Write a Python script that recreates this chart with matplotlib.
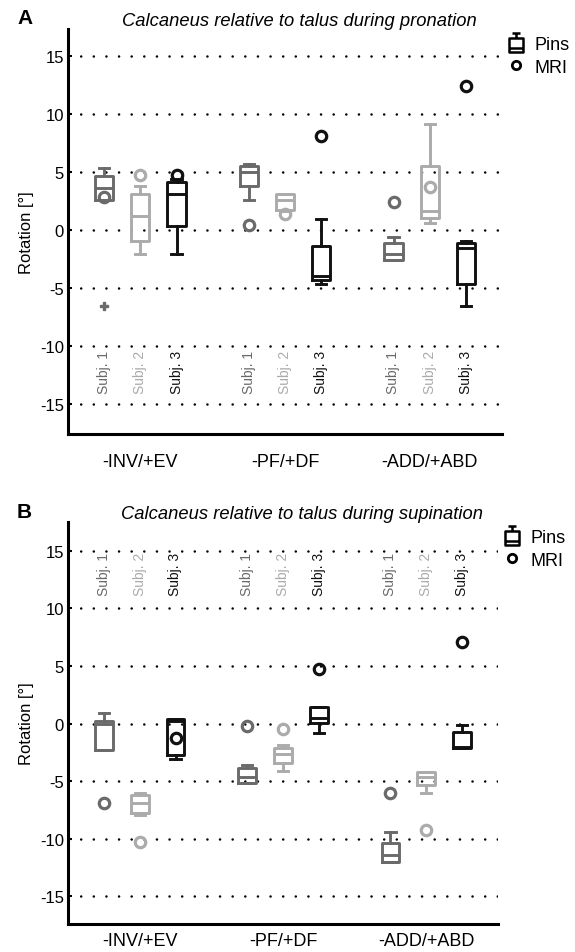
import matplotlib
matplotlib.use("Agg")
import matplotlib.pyplot as plt
from matplotlib.lines import Line2D
from matplotlib.path import Path

plt.rcParams['font.family'] = ['Liberation Sans', 'DejaVu Sans']

groups = ["-INV/+EV", "-PF/+DF", "-ADD/+ABD"]
subjects = ["Subj. 1", "Subj. 2", "Subj. 3"]
colors = ["#6a6a6a", "#ababab", "#111111"]
positions = [1, 2, 3, 5, 6, 7, 9, 10, 11]
yticks = [-15, -10, -5, 0, 5, 10, 15]

# Panel A (pronation): whislo, q1, med, q3, whishi per box (group-major, subject-minor)
a_whislo = [2.6, -2.1, -2.1, 2.6, 1.6, -4.7, -2.6, 0.6, -6.6]
a_q1     = [2.6, -1.0, 0.3, 3.8, 1.7, -4.3, -2.6, 1.0, -4.7]
a_med    = [3.6, 1.2, 3.1, 5.0, 2.6, -4.0, -2.1, 1.6, -1.6]
a_q3     = [4.6, 3.1, 4.1, 5.5, 3.1, -1.4, -1.1, 5.5, -1.1]
a_whishi = [5.3, 3.8, 4.4, 5.7, 3.1, 0.9, -0.6, 9.1, -1.0]
a_fliers = [[-6.6], [], [], [], [], [], [], [], []]
a_mri    = [2.8, 4.7, 4.7, 0.4, 1.4, 8.1, 2.4, 3.7, 12.4]

# Panel B (supination)
b_whislo = [-2.3, -7.9, -3.1, -5.2, -4.1, -0.8, -12.0, -6.0, -2.1]
b_q1     = [-2.3, -7.8, -2.7, -5.2, -3.4, 0.05, -12.0, -5.3, -2.1]
b_med    = [0.0, -6.9, 0.2, -4.6, -2.6, 0.5, -11.4, -4.6, -2.0]
b_q3     = [0.2, -6.2, 0.4, -3.9, -2.1, 1.4, -10.4, -4.2, -0.7]
b_whishi = [0.9, -6.0, 0.4, -3.6, -1.9, 1.4, -9.4, -4.2, -0.1]
b_fliers = [[], [], [], [], [], [], [], [], []]
b_mri    = [-6.9, -10.3, -1.25, -0.2, -0.5, 4.75, -6.0, -9.2, 7.1]

W, H = 575, 953
fig = plt.figure(figsize=(W / 100, H / 100), dpi=100)

def fx(px):
    return px / W

def fy(py):
    return 1 - py / H

# legend glyph for box
verts = [(-0.5, -0.7), (0.5, -0.7), (0.5, 0.35), (-0.5, 0.35), (-0.5, -0.7),
         (0, 0.35), (0, 0.8), (-0.28, 0.8), (0.28, 0.8), (-0.5, -0.4), (0.5, -0.4)]
codes = [Path.MOVETO, Path.LINETO, Path.LINETO, Path.LINETO, Path.CLOSEPOLY,
         Path.MOVETO, Path.LINETO, Path.MOVETO, Path.LINETO, Path.MOVETO, Path.LINETO]
box_marker = Path(verts, codes)


def panel(rect, ylim, title, title_x, xpad, letter, letter_xy,
          whislo, q1, med, q3, whishi, fliers, mri, label_y):
    ax = fig.add_axes(rect)
    for y in yticks:
        ax.axhline(y, color="black", lw=1.8, linestyle=(0, (0.05, 5.0)),
                   dash_capstyle="round", zorder=0)
    for i, p in enumerate(positions):
        c = colors[i % 3]
        stats = [dict(whislo=whislo[i], q1=q1[i], med=med[i], q3=q3[i],
                      whishi=whishi[i], fliers=fliers[i])]
        ax.bxp(stats, positions=[p], widths=0.5, showfliers=True,
               boxprops=dict(color=c, lw=2.1),
               medianprops=dict(color=c, lw=2.1),
               whiskerprops=dict(color=c, lw=2.1),
               capprops=dict(color=c, lw=2.1),
               capwidths=0.28,
               flierprops=dict(marker="P", markersize=6, markerfacecolor=c,
                               markeredgecolor=c, linestyle="none"),
               manage_ticks=False, zorder=3)
        ax.plot([p], [mri[i]], marker="o", markersize=7.5, markerfacecolor="none",
                markeredgecolor=c, markeredgewidth=2.3, linestyle="none", zorder=4)
        ax.text(p, label_y, subjects[i % 3], rotation=90, ha="center", va="center",
                color=c, fontsize=10)
    ax.set_xlim(0, 12)
    ax.set_ylim(*ylim)
    ax.set_yticks(yticks)
    ax.set_yticklabels([str(t) for t in yticks], fontsize=12)
    ax.set_xticks([2, 6, 10])
    ax.set_xticklabels(groups, fontsize=13)
    ax.tick_params(axis="x", length=0, pad=xpad)
    ax.tick_params(axis="y", length=3, width=1.5, direction="in", pad=3)
    for s in ["top", "right"]:
        ax.spines[s].set_visible(False)
    for s in ["left", "bottom"]:
        ax.spines[s].set_linewidth(2.2)
    ax.set_ylabel("Rotation [°]", fontsize=12, labelpad=4)
    ax.set_title(title, fontsize=13.2, style="italic", pad=3, x=title_x)
    fig.text(letter_xy[0], letter_xy[1], letter, fontsize=15, fontweight="bold",
             ha="left", va="center")
    handles = [Line2D([], [], marker=box_marker, markersize=15, markerfacecolor="none",
                      markeredgecolor="black", markeredgewidth=1.8, linestyle="none"),
               Line2D([], [], marker="o", markersize=6, markerfacecolor="none",
                      markeredgecolor="black", markeredgewidth=2.0, linestyle="none")]
    ax.legend(handles, ["Pins", "MRI"], loc="upper left", bbox_to_anchor=(0.995, 1.0),
              frameon=False, fontsize=13, handlelength=1.0, handletextpad=0.5,
              labelspacing=0.3, borderaxespad=0.0)
    return ax


# Panel A: left 68px, right 502px, top 30px, bottom 435px
panel([fx(68), fy(435), fx(502) - fx(68), fy(30) - fy(435)], (-17.6, 17.3),
      "Calcaneus relative to talus during pronation", 0.532, 14, "A", (fx(17), fy(18)),
      a_whislo, a_q1, a_med, a_q3, a_whishi, a_fliers, a_mri, -12.2)

# Panel B: top 523px, bottom 925px
panel([fx(68), fy(925), fx(498) - fx(68), fy(523) - fy(925)], (-17.4, 17.5),
      "Calcaneus relative to talus during supination", 0.545, 6, "B", (fx(17), fy(512)),
      b_whislo, b_q1, b_med, b_q3, b_whishi, b_fliers, b_mri, 13.0)

fig.savefig("out.png", dpi=100)
